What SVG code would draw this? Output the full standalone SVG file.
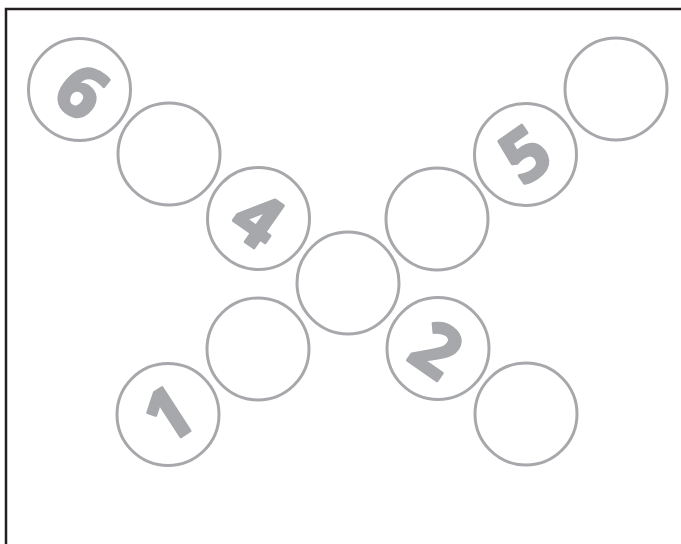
<svg xmlns="http://www.w3.org/2000/svg" width="681" height="544" viewBox="0 0 681 544">
<style>
.c{fill:#fff;stroke:#a7a8ab;stroke-width:3}
.d{fill:#a7a8ab;stroke:#a7a8ab;stroke-width:3;stroke-linejoin:round;font-family:"Open Sans",Roboto,sans-serif;font-weight:bold;font-size:72px;text-anchor:middle}
</style>
<rect x="0" y="0" width="681" height="544" fill="#fff"/>
<rect x="6" y="9" width="720" height="600" fill="none" stroke="#231f20" stroke-width="2.5"/>
<g id="n6"><circle class="c" cx="79.5" cy="89.5" r="51"/><text class="d" transform="translate(82,91) rotate(38)" y="26">6</text></g>
<g id="na"><circle class="c" cx="169" cy="154" r="51"/></g>
<g id="n4"><circle class="c" cx="258.5" cy="218.5" r="51"/><text class="d" transform="translate(258,219) rotate(35)" y="26">4</text></g>
<g id="nc"><circle class="c" cx="348" cy="283" r="51"/></g>
<g id="nb"><circle class="c" cx="258" cy="349" r="51"/></g>
<g id="n1"><circle class="c" cx="168" cy="414.5" r="51"/><text class="d" transform="translate(168,414) rotate(-33)" y="26">1</text></g>
<g id="nd"><circle class="c" cx="437" cy="219" r="51"/></g>
<g id="n5"><circle class="c" cx="525.5" cy="154.5" r="51"/><text class="d" transform="translate(525,154) rotate(-35)" y="26">5</text></g>
<g id="ne"><circle class="c" cx="616" cy="89" r="51"/></g>
<g id="n2"><circle class="c" cx="438" cy="348.5" r="51"/><text class="d" transform="translate(437,349) rotate(35)" y="26">2</text></g>
<g id="nf"><circle class="c" cx="526" cy="414" r="51"/></g>
<g id="connectors"></g>
</svg>
